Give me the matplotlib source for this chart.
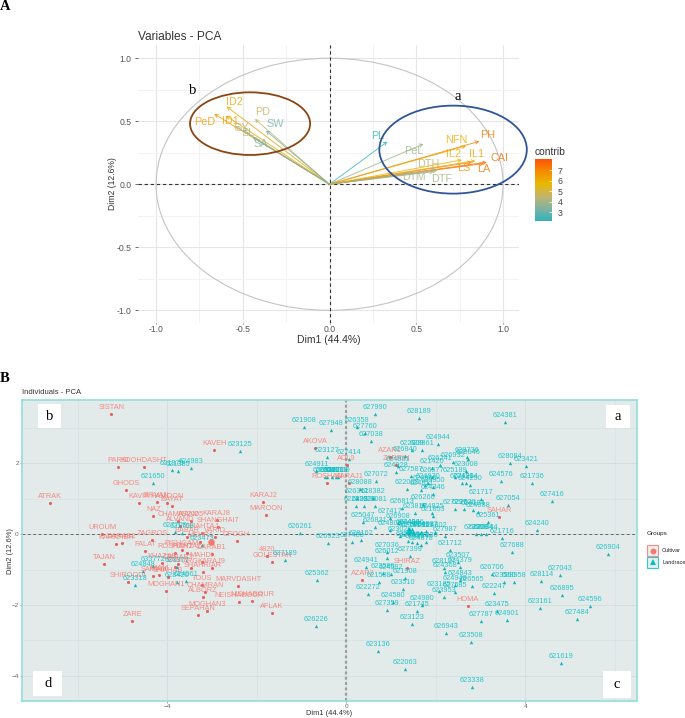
import matplotlib
matplotlib.use("Agg")
import matplotlib.pyplot as plt
from matplotlib.colors import LinearSegmentedColormap, Normalize
from matplotlib.cm import ScalarMappable
from matplotlib.patches import Circle, Ellipse, Rectangle
from matplotlib.lines import Line2D

plt.rcParams['font.family'] = ['Liberation Sans', 'DejaVu Sans']
W, H = 685, 718

# ---------- Panel A data ----------
var_names = ['ID2', 'PeD', 'ID1', 'GY', 'SL', 'SA', 'PD', 'SW', 'PL', 'PeL', 'PH', 'NFN',
             'IL1', 'IL2', 'CAI', 'LA', 'LS', 'DTH', 'DTM', 'DTF']
var_dim1 = [-0.593, -0.664, -0.597, -0.545, -0.50, -0.443, -0.43, -0.366, 0.333, 0.541, 0.863, 0.787,
            0.839, 0.762, 0.906, 0.89, 0.82, 0.618, 0.60, 0.62]
var_dim2 = [0.616, 0.558, 0.544, 0.463, 0.43, 0.373, 0.518, 0.425, 0.338, 0.32, 0.341, 0.304,
            0.187, 0.193, 0.175, 0.165, 0.175, 0.119, 0.10, 0.11]
var_contrib = [6.2, 6.5, 6.1, 4.4, 4.0, 3.4, 4.6, 3.2, 2.3, 3.9, 7.2, 6.0,
               6.2, 5.9, 7.5, 7.3, 6.8, 4.3, 4.0, 4.0]
# label offset from arrow tip, in pixels (right, up)
var_label_dx = [8, -10, 4, 6, 5, 8, 8, 9, -10, -10, 8, -10, 1, -8, 13, 0, -8, -8, -20, 5]
var_label_dy = [5, -8, -5, -2, -3, -7, 7, 7, 6, -7, 6, 6, 7, 6, 4, -6, -6, 5, -5, -9]
contrib_ticks = [3, 4, 5, 6, 7]

# ---------- Panel B data ----------
cultivar_names = ['SISTAN', 'PARSI', 'KOOHDASHT', 'GHODS', 'ATRAK', 'KAVIR', 'SIRVAN', 'HAMOON', 'BAYAT', 'NAZ',
                  'UROUM', 'ZAGROS', 'KARKHEH', 'DARAB2', 'FALAT', 'TAJAN', 'SHIROODI', 'MOGHAN1', 'ZARE',
                  'SEPAHAN', 'MOGHAN3', 'MARVDASHT', 'AFLAK', 'NEISHABOOR', 'NISHABOUR', '4820', 'GOLESTAN',
                  'OFOGH', 'KARAJ2', 'MAROON', 'KAVEH', 'AKOVA', 'ROSHAN', 'KARAJ1', 'AZAR2', 'ADL9',
                  'HOMA', 'SHIRAZ', 'SAHAR', 'AZAR1', 'ZARRIN',
                  'CHAMRAN2', 'AS2005', 'KARAJ8', 'ALVAND', 'SHANGHAI7', 'SHAHTAJ', 'VARID', 'BABAR',
                  'PISHGAM', 'MEHR1', 'DARAB1', 'ROSHAN2', 'KHAZAR', 'DARAB3', 'MAHDI', 'BAM', 'KARAJ9',
                  'SHAHRIAR', 'TOUS', 'CHAMRAN', 'ALBORZ', 'IMAM', 'SAMAN', 'SHAHAB', 'PISHTAZ', 'ARG']
cultivar_dim1 = [-5.25, -5.10, -4.52, -4.92, -6.62, -4.63, -4.24, -4.00, -3.90, -4.31,
                 -5.45, -4.34, -5.15, -5.02, -4.49, -5.41, -4.88, -4.02, -4.78,
                 -3.31, -3.12, -2.41, -1.67, -2.39, -2.10, -1.77, -1.66,
                 -2.45, -1.85, -1.80, -2.95, -0.69, -0.43, 0.06, 0.36, 0.01,
                 2.72, 1.35, 3.42, 0.97, 1.12,
                 -3.76, -3.46, -2.90, -3.72, -2.86, -3.23, -2.94, -3.57,
                 -3.68, -3.27, -3.01, -3.83, -4.11, -3.76, -3.23, -3.83, -3.01,
                 -3.20, -3.23, -3.16, -3.20, -4.18, -4.31, -3.98, -3.57, -3.46]
cultivar_dim2 = [3.39, 1.89, 1.91, 1.26, 0.88, 0.88, 0.91, 0.88, 0.81, 0.51,
                 0.01, -0.16, -0.28, -0.25, -0.47, -0.83, -1.36, -1.60, -2.44,
                 -2.27, -2.16, -1.47, -2.23, -1.92, -1.89, -0.61, -0.77,
                 -0.19, 0.92, 0.55, 2.37, 2.44, 1.46, 1.46, -1.29, 1.97,
                 -2.02, -0.95, 0.50, 2.19, 1.96,
                 0.38, 0.38, 0.40, 0.23, 0.21, 0.05, -0.08, -0.07,
                 -0.44, -0.21, -0.55, -0.54, -0.82, -0.84, -0.79, -0.93, -0.96,
                 -1.06, -1.43, -1.62, -1.76, -1.15, -1.18, -1.20, -0.54, -0.96]

landrace_names = ['627990', '621908', '627948', '626358', '627760', '627038', '623127', '627414', '624911', '626992',
                  '623870', '628009', '625012', '624019', '627072', '628088', '626311', '628382', '622229', '628081',
                  '622899', '628189', '624381', '624944', '622809', '628861', '626840', '626241', '626932', '628736',
                  '628646', '623008', '624861', '621420', '624928', '627587', '626577', '625189', '624214', '624290',
                  '627190', '624576', '621736', '628084', '623421', '627416', '627054', '621717', '624240', '621716',
                  '627987', '622009', '624865', '624870', '626350', '624811', '624346', '626260', '626813', '623817',
                  '624825', '621853', '627297', '622820', '624184', '624088', '625361', '623009', '623084', '626344',
                  '627417', '625047', '626908', '626831', '624809', '624494', '624866', '624886', '627813', '626811',
                  '624887', '624802', '623020', '628162', '627480', '626923', '626261', '623026', '624834', '626254',
                  '624878', '627836', '627036', '626012', '627399', '621712', '623507', '624379', '628127', '624368',
                  '627688', '626904', '627043', '628114', '626895', '624596', '627484', '623161', '623475', '624901',
                  '627787', '626706', '622247', '623560', '628958', '626565', '624948', '624843', '623185', '627585',
                  '623953', '624980', '621745', '623123', '626943', '623508', '622063', '621619', '623338', '624941',
                  '621588', '623580', '624582', '621908', '623510', '622272', '624580', '627359', '623136', '625362',
                  '626226', '624983', '621375', '621385', '621650', '621708', '627709', '623473', '623377', '628420',
                  '624061', '624848', '623318', '633772', '627189', '623125']
landrace_dim1 = [0.65, -0.95, -0.34, 0.23, 0.42, 0.56, -0.44, 0.06, -0.67, -0.48,
                 -0.33, -0.18, -0.42, -0.23, 0.66, 0.30, 0.23, 0.60, 0.40, 0.64,
                 0.21, 1.63, 3.54, 2.06, 1.46, 1.70, 1.31, 2.09, 2.39, 2.70,
                 2.72, 2.67, 1.16, 1.91, 1.12, 1.44, 1.92, 2.43, 2.67, 2.76,
                 2.58, 3.45, 4.15, 3.66, 4.02, 4.60, 3.62, 3.02, 4.27, 3.48,
                 2.20, 1.35, 1.76, 1.83, 1.94, 1.68, 1.94, 1.72, 1.24, 1.53,
                 1.91, 1.93, 2.43, 2.63, 2.84, 2.95, 3.17, 2.90, 3.01, 3.12,
                 0.97, 0.38, 1.16, 0.64, 0.97, 1.38, 1.42, 1.46, 1.50, 1.68,
                 1.79, 1.98, 1.20, 0.34, 0.13, -0.40, -1.04, 1.38, 1.46, 1.58,
                 1.68, 1.79, 0.92, 0.92, 1.42, 2.32, 2.50, 2.54, 2.19, 2.20,
                 3.71, 5.84, 4.77, 4.36, 4.81, 5.45, 5.15, 4.32, 3.37, 3.60,
                 3.01, 3.26, 3.31, 3.52, 3.75, 2.81, 2.43, 2.54, 2.08, 2.43,
                 2.19, 1.70, 1.57, 1.46, 2.23, 2.79, 1.32, 4.80, 2.82, 0.45,
                 0.73, 0.82, 1.00, 1.31, 1.27, 0.49, 1.05, 0.90, 0.72, -0.66,
                 -0.67, -3.47, -3.89, -3.77, -4.31, -3.68, -3.83, -3.23, -3.78, -3.78,
                 -3.59, -4.54, -4.72, -4.31, -1.36, -2.37]
landrace_dim2 = [3.40, 3.02, 2.94, 3.04, 2.87, 2.64, 2.18, 2.12, 1.79, 1.63,
                 1.63, 1.63, 1.62, 1.62, 1.50, 1.27, 1.03, 1.02, 0.80, 0.80,
                 0.80, 3.28, 3.18, 2.55, 2.38, 2.39, 2.21, 1.96, 2.03, 2.17,
                 2.14, 1.79, 1.93, 1.87, 1.77, 1.65, 1.61, 1.61, 1.44, 1.39,
                 1.44, 1.51, 1.45, 2.00, 1.94, 0.94, 0.83, 0.99, 0.13, -0.11,
                 -0.04, 1.27, 1.39, 1.44, 1.33, 1.25, 1.14, 0.86, 0.73, 0.59,
                 0.61, 0.53, 0.71, 0.71, 0.69, 0.64, 0.36, 0.01, 0.01, 0.01,
                 0.45, 0.36, 0.31, 0.21, 0.11, 0.15, 0.09, 0.15, 0.06, 0.06,
                 0.09, 0.07, -0.04, -0.16, -0.21, -0.25, 0.05, -0.19, -0.23, -0.25,
                 -0.30, -0.23, -0.49, -0.66, -0.60, -0.44, -0.77, -0.93, -0.96, -1.06,
                 -0.50, -0.55, -1.15, -1.31, -1.71, -2.02, -2.38, -2.07, -2.16, -2.41,
                 -2.45, -1.13, -1.67, -1.34, -1.34, -1.45, -1.43, -1.29, -1.59, -1.64,
                 -1.76, -2.00, -2.16, -2.53, -2.78, -3.05, -3.81, -3.63, -4.31, -0.93,
                 -1.34, -1.10, -1.12, -1.23, -1.55, -1.69, -1.90, -2.14, -3.31, -1.29,
                 -2.59, 1.88, 1.82, 1.78, 1.44, 0.05, 0.07, -0.30, -0.92, -1.34,
                 -1.31, -1.03, -1.42, -0.91, -0.73, 2.34]
# group centroids
centroid_dim1 = [-3.03, 1.41]
centroid_dim2 = [-0.21, 0.12]
group_names = ['Cultivar', 'Landrace']


def fig_rect(left, top, right, bottom):
    return [left / W, 1 - bottom / H, (right - left) / W, (bottom - top) / H]


def fx(px):
    return px / W


def fy(py):
    return 1 - py / H


fig = plt.figure(figsize=(W / 100, H / 100), dpi=100, facecolor='white')

# ---------- Panel A ----------
ax = fig.add_axes(fig_rect(138, 45, 519, 322.7))
ax.set_xlim(-1.104, 1.092)
ax.set_ylim(-1.098, 1.105)
for s in ax.spines.values():
    s.set_visible(False)
ax.set_xticks([-1, -0.5, 0, 0.5, 1])
ax.set_yticks([-1, -0.5, 0, 0.5, 1])
ax.set_xticklabels(['-1.0', '-0.5', '0.0', '0.5', '1.0'])
ax.set_yticklabels(['-1.0', '-0.5', '0.0', '0.5', '1.0'])
ax.set_xticks([-0.75, -0.25, 0.25, 0.75], minor=True)
ax.set_yticks([-0.75, -0.25, 0.25, 0.75], minor=True)
ax.grid(True, which='major', color='#E6E6E6', lw=0.8)
ax.grid(True, which='minor', color='#F0F0F0', lw=0.6)
ax.tick_params(which='minor', length=0)
ax.tick_params(axis='y', which='major', labelsize=6.2, colors='#555555', length=2, width=0.6, pad=2.5)
ax.tick_params(axis='x', which='major', labelsize=6.2, colors='#555555', length=1, width=0.6, pad=1)
ax.set_axisbelow(True)
ax.add_patch(Circle((0, 0), 1, fill=False, ec='#C4C4C4', lw=0.8))
ax.axhline(0, color='#333333', lw=0.8, ls=(0, (3, 2.5)))
ax.axvline(0, color='#333333', lw=0.8, ls=(0, (3, 2.5)))

cmap = LinearSegmentedColormap.from_list(
    'contrib', ['#2FB3BC', '#7FB2A2', '#C2B56C', '#E7B800', '#F58C00', '#FC5207'])
norm = Normalize(2.15, 8.04)
for n, x, y, c, dx, dy in zip(var_names, var_dim1, var_dim2, var_contrib, var_label_dx, var_label_dy):
    col = cmap(norm(c))
    ax.annotate('', xy=(x, y), xytext=(0, 0),
                arrowprops=dict(arrowstyle='->,head_length=0.22,head_width=0.12', color=col, lw=0.65,
                                alpha=0.85, shrinkA=0, shrinkB=0))
    ax.annotate(n, xy=(x, y), xytext=(dx, dy), textcoords='offset pixels', ha='center', va='center',
                fontsize=7.8, color=col, alpha=0.8)

ax.add_patch(Ellipse((-0.458, 0.481), 0.692, 0.497, fill=False, ec='#8B4513', lw=1.3, clip_on=False, zorder=5))
ax.add_patch(Ellipse((0.712, 0.275), 0.85, 0.698, fill=False, ec='#2F5597', lw=1.3, clip_on=False, zorder=5))
ax.set_xlabel('Dim1 (44.4%)', fontsize=7.5, color='#333333', labelpad=0.5)
ax.set_ylabel('Dim2 (12.6%)', fontsize=6.2, color='#333333', labelpad=0)
fig.text(fx(138.5), fy(37), 'Variables - PCA', fontsize=8.6, color='#333333', ha='left', va='center')
fig.text(fx(193), fy(91), 'b', fontsize=10.5, family='Liberation Serif', ha='center', va='center')
fig.text(fx(458), fy(96), 'a', fontsize=10.5, family='Liberation Serif', ha='center', va='center')
fig.text(fx(5), fy(6), 'A', fontsize=10.5, family='Liberation Serif', weight='bold', ha='center', va='center')
fig.text(fx(5), fy(378), 'B', fontsize=10.5, family='Liberation Serif', weight='bold', ha='center', va='center')

# colour bar
cax = fig.add_axes(fig_rect(535, 159, 552, 221.3))
cb = fig.colorbar(ScalarMappable(norm=norm, cmap=cmap), cax=cax)
cb.set_ticks(contrib_ticks)
cb.outline.set_visible(False)
cax.tick_params(labelsize=6.3, length=2.5, width=0.5, colors='#444444', pad=4, color='white', direction='in')
for t in cax.get_yticklabels():
    t.set_color('#444444')
fig.text(fx(535), fy(152), 'contrib', fontsize=7.4, color='#333333', ha='left', va='center')

# ---------- Panel B ----------
bx = fig.add_axes(fig_rect(22.3, 400.3, 636.7, 701))
bx.set_facecolor('#E3EAEA')
bx.set_xlim(-7.24, 6.49)
bx.set_ylim(-4.71, 3.785)
for s in bx.spines.values():
    s.set_color('#93DEDE')
    s.set_linewidth(1.2)
bx.set_xticks([-4, 0, 4])
bx.set_yticks([-4, -2, 0, 2])
bx.set_xticks([-6, -2, 2, 6], minor=True)
bx.set_yticks([-3, -1, 1, 3], minor=True)
bx.grid(True, which='major', color='#D3DEDE', lw=0.7)
bx.grid(True, which='minor', color='#D9E3E3', lw=0.6)
bx.tick_params(which='minor', length=0)
bx.tick_params(which='major', labelsize=4.6, colors='#666666', length=1.5, width=0.4, pad=1)
bx.set_axisbelow(True)
bx.axhline(0, color='#666666', lw=0.7, ls=(0, (3, 2.5)))
bx.axvline(0, color='#9E9E9E', lw=1.6, ls=(0, (1.3, 1.1)))

cul_col = '#F8766D'
lan_col = '#00BFC4'
bx.scatter(cultivar_dim1, cultivar_dim2, s=5, color='#E8605A', marker='o', lw=0, zorder=3)
bx.scatter(landrace_dim1, landrace_dim2, s=6, color='#14B4B8', marker='^', lw=0, zorder=3)
bx.scatter(centroid_dim1[0], centroid_dim2[0], s=22, color=cul_col, marker='o', lw=0, zorder=4)
bx.scatter(centroid_dim1[1], centroid_dim2[1], s=24, color=lan_col, marker='^', lw=0, zorder=4)
for names, xs, ys, col in ((cultivar_names, cultivar_dim1, cultivar_dim2, cul_col),
                           (landrace_names, landrace_dim1, landrace_dim2, lan_col)):
    for n, x, y in zip(names, xs, ys):
        bx.annotate(n, xy=(x, y), xytext=(0, 6.5), textcoords='offset pixels', ha='center', va='center',
                    fontsize=5.3, color=col, alpha=0.82, zorder=5)
bx.set_xlabel('Dim1 (44.4%)', fontsize=5.4, color='#333333', labelpad=0.5)
bx.set_ylabel('Dim2 (12.6%)', fontsize=5.4, color='#333333', labelpad=-2)
fig.text(fx(22), fy(393), 'Individuals - PCA', fontsize=5.5, color='#333333', ha='left', va='center')

# white letter boxes
for (l, t, r, b, letter) in ((37.7, 403.7, 61, 428.3, 'b'), (606, 405, 630, 428, 'a'),
                             (33.3, 671, 62.3, 695.7, 'd'), (603.3, 671, 631, 697.7, 'c')):
    fig.add_artist(Rectangle((fx(l), fy(b)), (r - l) / W, (b - t) / H, transform=fig.transFigure,
                             fc='white', ec='none', zorder=6))
    fig.text(fx((l + r) / 2), fy((t + b) / 2), letter, fontsize=10.5, family='Liberation Serif',
             ha='center', va='center', zorder=7)

# legend
fig.text(fx(647), fy(534), 'Groups', fontsize=4.6, color='#222222', ha='left', va='center')
for (t, b, col, mk, ms, name) in ((545, 556, cul_col, 'o', 4.2, group_names[0]),
                                  (557, 567.5, lan_col, '^', 4.6, group_names[1])):
    fig.add_artist(Rectangle((fx(647), fy(b)), 11 / W, (b - t) / H, transform=fig.transFigure,
                             fc='#E3EAEA', ec=col, lw=0.8, alpha=0.8))
    fig.add_artist(Line2D([fx(652.5)], [fy((t + b) / 2)], transform=fig.transFigure, marker=mk, ms=ms,
                          color=col, lw=0, mew=0))
    fig.text(fx(662.2), fy((t + b) / 2), name, fontsize=4.1, color='#222222', ha='left', va='center')

fig.savefig('out.png', dpi=100, facecolor='white')
